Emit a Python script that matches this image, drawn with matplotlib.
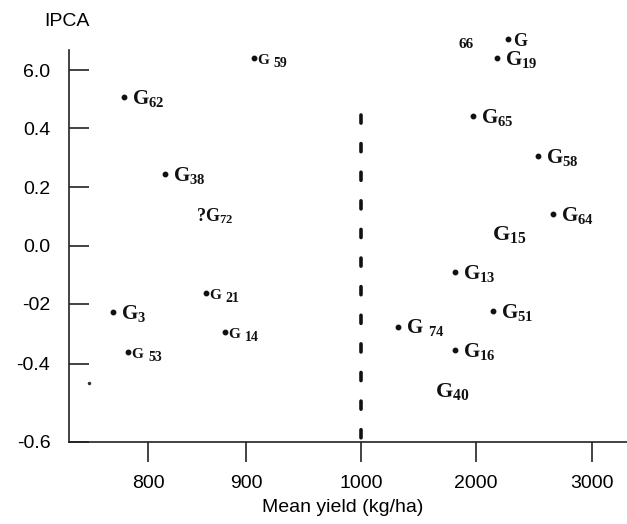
import numpy as np
import matplotlib
matplotlib.use("Agg")
import matplotlib.pyplot as plt

plt.rcParams['font.family'] = ['Liberation Sans', 'DejaVu Sans']
plt.rcParams['mathtext.fontset'] = 'custom'
plt.rcParams['mathtext.rm'] = 'Liberation Serif:bold'
plt.rcParams['mathtext.it'] = 'Liberation Serif:bold'
plt.rcParams['mathtext.bf'] = 'Liberation Serif:bold'
plt.rcParams['lines.scale_dashes'] = False

# ---- data ----
genotypes = ['59', '62', '38', '72', '66', '19', '65', '58', '64', '15',
             '21', '3', '14', '53', '13', '51', '74', '16', '40']
mean_yield = [907, 776, 817, 849, 2276, 2181, 1974, 2534, 2664, 2138,
              859, 764, 879, 780, 1817, 2147, 1322, 1817, 1643]
ipca = [0.641, 0.507, 0.244, 0.104, 0.707, 0.641, 0.441, 0.305, 0.108, 0.043,
        -0.162, -0.227, -0.293, -0.360, -0.091, -0.223, -0.277, -0.353, -0.467]
has_dot = [True, True, True, False, True, True, True, True, True, False,
           True, True, True, True, True, True, True, True, False]
label_style = ['small', 'large', 'large', 'q', 'g66', 'large', 'large', 'large', 'large', 'plain',
               'small', 'large', 'small', 'small', 'large', 'large', 'spaced', 'large', 'plain']
stray_x = [740]
stray_y = [-0.449]

x_ticks = [800, 900, 1000, 2000, 3000]
x_ticklabels = ['800', '900', '1000', '2000', '3000']
y_ticks = [-0.6, -0.4, -0.2, 0.0, 0.2, 0.4, 0.6]
y_ticklabels = ['-0.6', '-0.4', '-02', '0.0', '0.2', '0.4', '6.0']
mean_line_x = 1000
mean_line_top = 0.445

# ---- piecewise scales (axis is not linear in the original) ----
xv = [600, 800, 900, 1000, 2000, 3000, 4000]
xp = [-48, 148, 246, 361, 476, 592, 708]
yv = [-1.0, -0.6, -0.4, -0.2, 0.0, 0.2, 0.4, 0.6, 1.0]
yp = [-156, 0, 78, 138, 196.5, 255, 314, 372, 488]

def xf(v): return np.interp(v, xv, xp)
def xi(p): return np.interp(p, xp, xv)
def yf(v): return np.interp(v, yv, yp)
def yi(p): return np.interp(p, yp, yv)

fig = plt.figure(figsize=(6.27, 5.24), dpi=100)
ax = fig.add_axes([69/627, 82/524, 558/627, 392/524])
ax.set_xscale('function', functions=(xf, xi))
ax.set_yscale('function', functions=(yf, yi))
ax.set_xlim(xi(69), xi(627))
ax.set_ylim(-0.6, yi(392))

for s in ['top', 'right']:
    ax.spines[s].set_visible(False)
for s in ['left', 'bottom']:
    ax.spines[s].set_linewidth(1.2)
    ax.spines[s].set_color('#222222')

ax.set_xticks(x_ticks)
ax.set_xticklabels(x_ticklabels)
ax.set_yticks(y_ticks)
ax.set_yticklabels(y_ticklabels)
ax.xaxis.set_minor_locator(matplotlib.ticker.NullLocator())
ax.yaxis.set_minor_locator(matplotlib.ticker.NullLocator())
ax.tick_params(axis='x', direction='out', length=14.4, width=1.2, pad=9,
               labelsize=14, color='#222222')
ax.tick_params(axis='y', direction='in', length=14.4, width=1.2, pad=13.5,
               labelsize=14, color='#222222')

# dashed mean line
ax.plot([mean_line_x, mean_line_x], [mean_line_top, -0.6], color='#111111',
        lw=2.6, dashes=(5.8, 14.8), dash_capstyle='round',
        clip_on=False, zorder=3)

# points
dx_ = [x for x, d in zip(mean_yield, has_dot) if d]
dy_ = [y for y, d in zip(ipca, has_dot) if d]
ax.plot(dx_, dy_, 'o', ms=3.2, color='#111111', clip_on=False, zorder=4)
ax.plot(stray_x, stray_y, 'o', ms=1.5, color='#333333', clip_on=False)

serif = dict(family='Liberation Serif', weight='bold', color='#111111')
styles = {
    'large':  dict(fs=15, dx=8, dy=-7),
    'small':  dict(fs=11, dx=3, dy=-6),
    'spaced': dict(fs=15, dx=8, dy=-6),
    'plain':  dict(fs=16, dx=0, dy=-7),
    'q':      dict(fs=13, dx=0, dy=-6),
    'g66':    dict(fs=13, dx=5, dy=-7),
}
for g, x, y, st in zip(genotypes, mean_yield, ipca, label_style):
    s = styles[st]
    if st == 'small':
        # "G" followed by a number of nearly the same size, slightly lowered
        ax.annotate('G', (x, y), xytext=(s['dx'], s['dy']), textcoords='offset pixels',
                    fontsize=s['fs'], va='baseline', ha='left',
                    annotation_clip=False, **serif)
        gw = s['fs'] / 72 * 100 * 0.778 + 5
        ax.annotate(g, (x, y), xytext=(s['dx'] + gw, s['dy'] - 3),
                    textcoords='offset pixels', fontsize=s['fs'] - 1,
                    va='baseline', ha='left', annotation_clip=False, **serif)
        continue
    if st == 'spaced':
        txt = r'$\mathrm{G}\ _{%s}$' % g
    elif st == 'q':
        txt = r'$\mathrm{?G}_{%s}$' % g
    elif st == 'g66':
        ax.annotate(g, (x, y), xytext=(-50, -9), textcoords='offset pixels',
                    fontsize=11, va='baseline', ha='left',
                    annotation_clip=False, **serif)
        ax.annotate('G', (x, y), xytext=(s['dx'], s['dy']), textcoords='offset pixels',
                    fontsize=s['fs'], va='baseline', ha='left',
                    annotation_clip=False, **serif)
        continue
    else:
        txt = r'$\mathrm{G}_{%s}$' % g
    ax.annotate(txt, (x, y), xytext=(s['dx'], s['dy']), textcoords='offset pixels',
                fontsize=s['fs'], va='baseline', ha='left', color='#111111',
                annotation_clip=False)

fig.text(67/627, 1 - 22/524, 'IPCA', ha='center', va='center', fontsize=14)
fig.text(343/627, 1 - 507/524, 'Mean yield (kg/ha)', ha='center', va='center', fontsize=14)

fig.savefig('out.png', dpi=100)
